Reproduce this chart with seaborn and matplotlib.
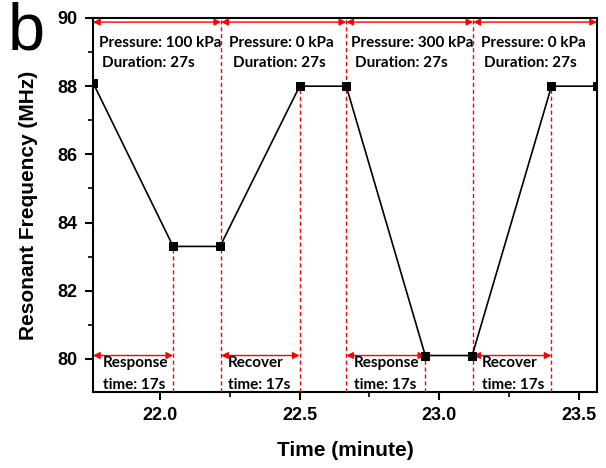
import matplotlib
matplotlib.use("Agg")
import matplotlib.pyplot as plt
import seaborn as sns
import pandas as pd
from matplotlib.ticker import MultipleLocator, FormatStrFormatter

# Data
time_min = [21.76, 22.047, 22.215, 22.50, 22.667, 22.95, 23.118, 23.402, 23.565]
freq_mhz = [88.1, 83.3, 83.3, 88.0, 88.0, 80.1, 80.1, 88.0, 88.0]

stage_bounds = [21.76, 22.219, 22.667, 23.122, 23.565]
pressure_labels = ["Pressure: 100 kPa", "Pressure: 0 kPa", "Pressure: 300 kPa", "Pressure: 0 kPa"]
duration_label = "Duration: 27s"
resp_start = [21.76, 22.219, 22.667, 23.122]
resp_end = [22.047, 22.50, 22.95, 23.402]
resp_end_freq = [83.3, 88.0, 80.1, 88.0]
resp_labels = ["Response", "Recover", "Response", "Recover"]
resp_time_label = "time: 17s"

sns.set_style("ticks", rc={"text.color": "black", "axes.labelcolor": "black",
                           "xtick.color": "black", "ytick.color": "black",
                           "axes.edgecolor": "black"})
plt.rcParams['font.family'] = ['Liberation Sans', 'DejaVu Sans']

fig = plt.figure(figsize=(6.06, 4.68), dpi=100)
ax = fig.add_axes([93/606, 1-392/468, (597-93)/606, (392-18)/468])

df = pd.DataFrame({"t": time_min, "f": freq_mhz})
sns.lineplot(data=df, x="t", y="f", ax=ax, color="black", marker="s",
             markersize=6, markeredgecolor="black", linewidth=1.2, zorder=5)

xmin, xmax = 21.76, 23.565
ymin, ymax = 79.03, 90.0
ax.set_xlim(xmin, xmax)
ax.set_ylim(ymin, ymax)

red = "#ff0000"
dash = (0, (3, 2))
for xb in stage_bounds[1:-1]:
    ax.plot([xb, xb], [ymin, ymax], color=red, lw=1, ls=dash, zorder=3)
for xe, fe in zip(resp_end, resp_end_freq):
    ax.plot([xe, xe], [ymin, fe], color=red, lw=1, ls=dash, zorder=3)

for a, b in zip(stage_bounds[:-1], stage_bounds[1:]):
    ax.annotate("", xy=(b, 89.88), xytext=(a, 89.88),
                arrowprops=dict(arrowstyle="<|-|>", color=red, lw=1,
                                mutation_scale=10, shrinkA=0, shrinkB=0))
for a, b in zip(resp_start, resp_end):
    ax.annotate("", xy=(b, 80.1), xytext=(a, 80.1),
                arrowprops=dict(arrowstyle="<|-|>", color=red, lw=1,
                                mutation_scale=10, shrinkA=0, shrinkB=0))

tfont = dict(family=["Lato", "DejaVu Sans"], fontweight="bold", fontsize=11, color="black")
p_offsets = [0.021, 0.029, 0.018, 0.027]
for a, lab, off in zip(stage_bounds[:-1], pressure_labels, p_offsets):
    ax.text(a + off, 89.27, lab, ha="left", va="center", **tfont)
    ax.text(a + off + 0.013, 88.69, duration_label, ha="left", va="center", **tfont)

r_offsets = [0.035, 0.024, 0.026, 0.032]
for a, lab, off in zip(resp_start, resp_labels, r_offsets):
    ax.text(a + off, 79.89, lab, ha="left", va="center", **tfont)
    ax.text(a + off, 79.23, resp_time_label, ha="left", va="center", **tfont)

for s in ax.spines.values():
    s.set_linewidth(1.5)
    s.set_color("black")
ax.xaxis.set_major_locator(MultipleLocator(0.5))
ax.xaxis.set_minor_locator(MultipleLocator(0.25))
ax.yaxis.set_major_locator(MultipleLocator(2))
ax.yaxis.set_minor_locator(MultipleLocator(1))
ax.xaxis.set_major_formatter(FormatStrFormatter("%.1f"))
ax.yaxis.set_major_formatter(FormatStrFormatter("%d"))
ax.tick_params(which="major", direction="out", length=6, width=1.5, labelsize=13,
               colors="black", pad=5)
ax.tick_params(which="minor", direction="out", length=3.5, width=1.2, colors="black")
ax.tick_params(top=False, right=False)
for lab in ax.get_xticklabels() + ax.get_yticklabels():
    lab.set_fontweight("bold")

ax.set_xlabel("Time (minute)", fontsize=15, fontweight="bold", labelpad=12, color="black")
ax.set_ylabel("Resonant Frequency (MHz)", fontsize=15, fontweight="bold", labelpad=14, color="black")

fig.text(8/606, 1-49/468, "b", fontsize=48, ha="left", va="baseline", color="black")

fig.savefig("out.png", dpi=100)
